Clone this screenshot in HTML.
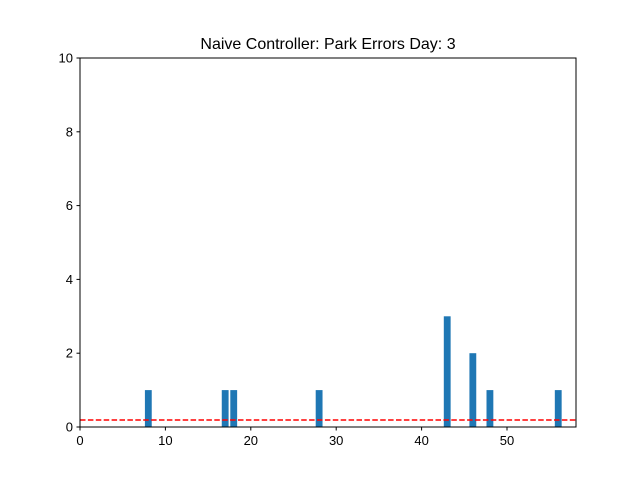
<!DOCTYPE html>
<html><head><meta charset="utf-8"><style>
body{margin:0;background:#fff;}
svg{display:block;font-family:"Liberation Sans","DejaVu Sans",sans-serif;}
</style></head><body>
<svg id="chart" width="640" height="480">
<rect width="640" height="480" fill="#fff"/>
<text x="328" y="49" text-anchor="middle" font-size="16">Naive Controller: Park Errors Day: 3</text>
<g id="plot"></g>
</svg>
<script>
const barX = [8, 17, 18, 28, 43, 46, 48, 56];
const barValues = [1, 1, 1, 1, 3, 2, 1, 1];
const xTicks = [0, 10, 20, 30, 40, 50];
const yTicks = [0, 2, 4, 6, 8, 10];
const meanLine = [0.19];
const L=80,R=576,T=58,B=427,xMin=0,xMax=58.08,yMin=0,yMax=10;
const sx=v=>L+(v-xMin)/(xMax-xMin)*(R-L);
const sy=v=>B-(v-yMin)/(yMax-yMin)*(B-T);
const g=document.getElementById('plot');
const NS='http://www.w3.org/2000/svg';
function mk(t,a){const e=document.createElementNS(NS,t);for(const k in a)e.setAttribute(k,a[k]);g.appendChild(e);return e;}
barX.forEach((x,i)=>{
 const e=mk('rect',{x:sx(x-0.4),y:sy(barValues[i]),width:sx(x+0.4)-sx(x-0.4),height:sy(0)-sy(barValues[i]),fill:'#1f77b4'});
 
 
});
meanLine.forEach(v=>{
 const e=mk('line',{x1:L,x2:R,y1:sy(v),y2:sy(v),stroke:'#ff0000','stroke-width':1.5,'stroke-dasharray':'5.5,2.4'});
 
 
});
const frame=mk('rect',{x:L,y:T,width:R-L,height:B-T,fill:'none',stroke:'#000','stroke-width':1});


xTicks.forEach(t=>{
 const x=sx(t);
 const l=mk('line',{x1:x,x2:x,y1:B,y2:B+3.5,stroke:'#000'});
 
 
 const s=mk('text',{x:x,y:B+18,'text-anchor':'middle','font-size':13});
 s.textContent=t;
 
 
});
yTicks.forEach(t=>{
 const y=sy(t);
 const l=mk('line',{x1:L-3.5,x2:L,y1:y,y2:y,stroke:'#000'});
 
 
 const s=mk('text',{x:L-7,y:y+4.5,'text-anchor':'end','font-size':13});
 s.textContent=t;
 
 
});
</script>
</body></html>
